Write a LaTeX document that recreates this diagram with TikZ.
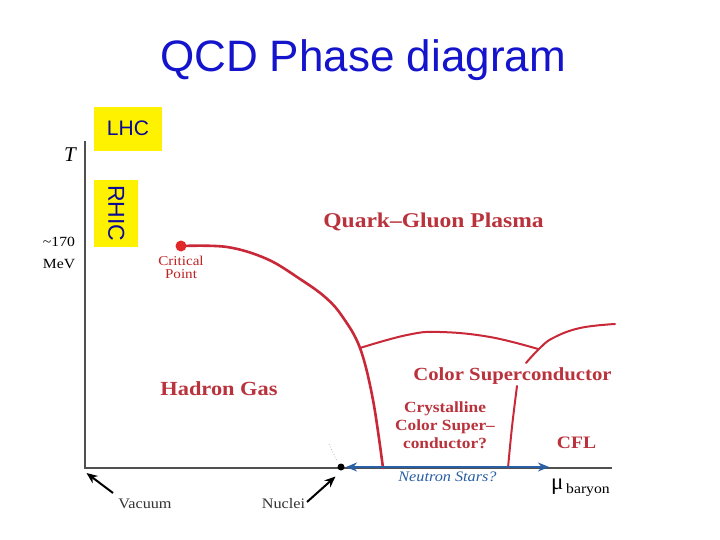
\documentclass[tikz,border=0pt]{standalone}
\usepackage{fontspec}
\setmainfont{Liberation Serif}
\newfontfamily\arial{Liberation Sans}
\newfontfamily\lab[FakeStretch=1.12]{Liberation Serif}
\usetikzlibrary{arrows.meta}
\definecolor{titleblue}{RGB}{20,20,205}
\definecolor{navy}{RGB}{10,10,150}
\definecolor{phred}{RGB}{200,40,55}
\definecolor{labred}{RGB}{185,50,60}
\definecolor{critred}{RGB}{225,40,40}
\definecolor{nsblue}{RGB}{40,95,165}
\definecolor{axisgray}{RGB}{80,80,80}
\tikzset{
  fs/.style={font=\lab\fontsize{#1}{#1}\selectfont},
  redlab/.style={text=labred, inner sep=0, anchor=base},
  phline/.style={draw=phred, line width=2pt, line cap=round},
  axisline/.style={draw=axisgray, line width=1.2pt},
  blkarrow/.style={draw=black, line width=2pt, -{Stealth[length=11pt,width=9pt]}},
  nsarrow/.style={draw=nsblue, line width=2pt, {Stealth[length=11pt,width=9pt]}-{Stealth[length=11pt,width=9pt]}},
  ybox/.style={fill=yellow, text=navy, inner sep=0, font=\arial\fontsize{#1}{#1}\selectfont},
}
\begin{document}
\begin{tikzpicture}[x=1pt,y=-1pt]
\useasboundingbox (0,0) rectangle (720,540);
\fill[white] (0,0) rectangle (720,540);
% title
\node (title) [anchor=base, inner sep=0, text=titleblue, font=\arial\fontsize{44}{44}\selectfont] at (363,71.7) {QCD Phase diagram};
% yellow boxes
\node (lhc) [ybox=21, minimum width=67.4pt, minimum height=44pt] at (128,128.7) {LHC\hspace{11pt}};
\node (rhic) [ybox=23, minimum width=67pt, minimum height=43.7pt, rotate=-90] at (116.2,213.5) {RHIC};
% axes
\coordinate (O) at (85,468);
\draw[axisline] (85,141) -- (O) -- (612,468);
\node (T) [anchor=base, inner sep=0, font=\itshape\fontsize{21}{21}\selectfont] at (70,162) {T};
\node (t170) [anchor=base, inner sep=0, fs=14] at (59,247) {\textasciitilde170};
\node (mev) [anchor=base, inner sep=0, fs=14] at (59,268) {MeV};
\node (mu) [anchor=base west, inner sep=0, font=\fontsize{23}{23}\selectfont] at (551,489) {μ};
\node (baryon) [anchor=base west, inner sep=0, fs=14] at (566,493) {baryon};
% phase boundaries
\draw[phline, line width=2.6pt] plot[smooth, tension=0.6] coordinates {(181,246) (227,247) (267,259) (300,279) (325,297) (342,316) (360,348) (373,400) (383,468)};
\draw[phline] plot[smooth, tension=0.7] coordinates {(360,348) (407,335) (440,332) (490,337) (538,349)};
\draw[phline] plot[smooth, tension=0.7] coordinates {(526,363) (539,349) (553,338) (580,328) (615,324)};
\draw[phline] plot[smooth, tension=0.7] coordinates {(517,386) (512,427) (508,468)};
\node (cp) [circle, fill=critred, inner sep=0, minimum size=11pt] at (181,246) {};
\node (cplab1) [redlab, text=critred!85!black, font=\lab\fontsize{13.5}{13.5}\selectfont] at (181,265) {Critical};
\node (cplab2) [redlab, text=critred!85!black, font=\lab\fontsize{13.5}{13.5}\selectfont] at (181,278) {Point};
% region labels
\node (qgp) [redlab, font=\lab\bfseries\fontsize{21}{21}\selectfont] at (433.5,227) {Quark–Gluon Plasma};
\node (hg) [redlab, font=\lab\bfseries\fontsize{20}{20}\selectfont] at (219,395) {Hadron Gas};
\node (csc) [redlab, font=\lab\bfseries\fontsize{18.5}{18.5}\selectfont] at (512.5,380) {Color Superconductor};
\node (ccs) [redlab, align=center, font=\lab\bfseries\fontsize{15.5}{18}\selectfont] at (445,448) {Crystalline\\Color Super–\\conductor?};
\node (cfl) [redlab, font=\lab\bfseries\fontsize{17.5}{17.5}\selectfont] at (576.5,448) {CFL};
% neutron stars
\coordinate (nsL) at (346,467);
\coordinate (nsR) at (549,467);
\draw[nsarrow] (nsL) -- (nsR);
\node (ns) [anchor=base, inner sep=0, text=nsblue, font=\lab\itshape\fontsize{14.5}{14.5}\selectfont] at (447.5,481.7) {Neutron Stars?};
\node (nucdot) [circle, fill=black, inner sep=0, minimum size=7pt] at (341,467) {};
\draw[gray!55, dotted, line width=0.8pt] (329,444) -- (337,461);
% vacuum and nuclei
\node (vac) [anchor=base, inner sep=0, text=black!80, fs=14.5] at (145,508) {Vacuum};
\node (nuc) [anchor=base, inner sep=0, text=black!80, fs=14.5] at (283.5,508) {Nuclei};
\coordinate (vactail) at (113,493);
\coordinate (vachead) at (86.5,473);
\coordinate (nuctail) at (307,502);
\coordinate (nuchead) at (335.5,476.5);
\draw[blkarrow] (vactail) -- (vachead);
\draw[blkarrow] (nuctail) -- (nuchead);
\end{tikzpicture}
\end{document}
